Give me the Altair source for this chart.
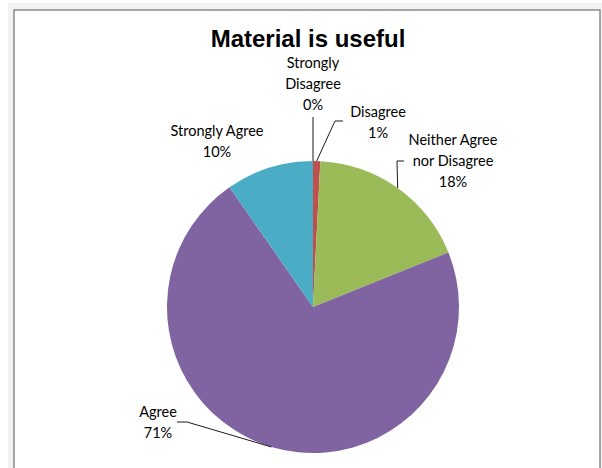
import math
import altair as alt
import pandas as pd

# ---- data ----
categories = ["Strongly Disagree", "Disagree", "Neither Agree nor Disagree", "Agree", "Strongly Agree"]
label_lines = ["Strongly\nDisagree", "Disagree", "Neither Agree\nnor Disagree", "Agree", "Strongly Agree"]
values = [0.0, 0.8, 18.1, 71.4, 9.7]
colors = ["#4F81BD", "#C0504D", "#9BBB59", "#8064A2", "#4BACC6"]

# ---- layout (pixels) ----
W, H = 602, 468
CX, CY, R = 313, 307, 146
label_x = [313, 378, 453, 158, 217]
label_y = [64, 113, 141, 413, 132]   # centre of the first text line
# leader-line points near the labels (the pie-edge end is derived from the data)
leader_near = {
    0: [(313, 117)],
    1: [(343, 121), (335, 121)],
    2: [(404, 161), (397, 161)],
    3: [(177, 422), (187, 422)],
}

pie_df = pd.DataFrame({
    "category": categories,
    "value": values,
    "order": list(range(len(categories))),
})

lab_df = pd.DataFrame({
    "text": [f"{l}\n{round(v)}%" for l, v in zip(label_lines, values)],
    "px": label_x,
    "py": label_y,
})

total = sum(values)
rows = []
cum = 0.0
for i, v in enumerate(values):
    mid = (cum + v / 2) / total * 2 * math.pi
    cum += v
    if i in leader_near:
        pts = leader_near[i] + [(CX + R * math.sin(mid), CY - R * math.cos(mid))]
        for k, (x, y) in enumerate(pts):
            rows.append({"id": i, "k": k, "px": x, "py": y})
lead_df = pd.DataFrame(rows)

xs = alt.Scale(domain=[0, W], range=[0, W], nice=False, zero=False)
ys = alt.Scale(domain=[0, H], range=[0, H], nice=False, zero=False)

outer = alt.Chart(pd.DataFrame({"a": [0]})).mark_rect(fill="#f2f2f2").encode(
    x=alt.value(8), x2=alt.value(W), y=alt.value(3), y2=alt.value(H)
)
box = alt.Chart(pd.DataFrame({"a": [0]})).mark_rect(
    fill="white", stroke="#8a8a8a", strokeWidth=1.5
).encode(
    x=alt.value(14), x2=alt.value(600), y=alt.value(10), y2=alt.value(H + 5)
)

pie = alt.Chart(pie_df).mark_arc(radius=R).encode(
    theta=alt.Theta("value:Q", stack=True),
    color=alt.Color("category:N", scale=alt.Scale(domain=categories, range=colors), legend=None),
    order=alt.Order("order:Q"),
    x=alt.value(CX),
    y=alt.value(CY),
)

leaders = alt.Chart(lead_df).mark_line(color="#1a1a1a", strokeWidth=1).encode(
    x=alt.X("px:Q", scale=xs, axis=None),
    y=alt.Y("py:Q", scale=ys, axis=None),
    detail="id:N",
    order="k:Q",
)

labels = alt.Chart(lab_df).mark_text(
    font="Lato", fontSize=14.5, lineBreak="\n", lineHeight=21,
    align="center", baseline="middle", color="#000000"
).encode(
    x=alt.X("px:Q", scale=xs, axis=None),
    y=alt.Y("py:Q", scale=ys, axis=None),
    text="text:N",
)

title = alt.Chart(pd.DataFrame({"t": ["Material is useful"]})).mark_text(
    font="Liberation Sans", fontSize=24, fontWeight="bold",
    align="center", baseline="middle", color="#000000"
).encode(
    x=alt.value(308), y=alt.value(40), text="t:N"
)

chart = alt.layer(outer, box, pie, leaders, labels, title).properties(
    width=W, height=H, padding=0, autosize=alt.AutoSizeParams(type="none"),
    background="white",
).configure_view(stroke=None)

chart.save("out.html", embed_options={"renderer": "svg", "actions": False})
